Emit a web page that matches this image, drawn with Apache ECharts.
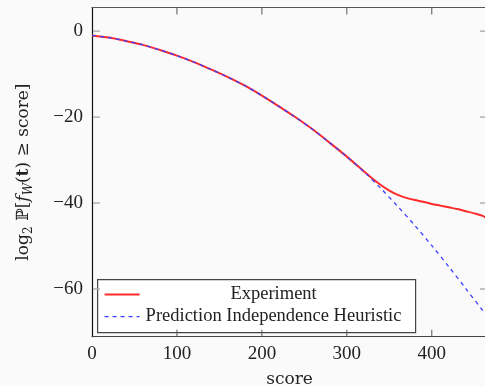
<!DOCTYPE html>
<html>
<head>
<meta charset="utf-8">
<script src="https://cdn.jsdelivr.net/npm/echarts@6/dist/echarts.min.js"></script>
<style>
  html, body { margin: 0; padding: 0; background: #fafafa; }
  #chart { width: 485px; height: 386px; }
</style>
</head>
<body>
<div id="chart"></div>
<script>
// score values and log2 probabilities
const heuristicX = [0, 20, 40, 60, 80, 100, 120, 140, 160, 180, 200, 220, 240, 260, 280, 300, 320, 340, 360, 380, 400, 420, 440, 460, 466];
const heuristicY = [-1.0, -1.5, -2.3, -3.2, -4.4, -5.7, -7.2, -8.9, -10.7, -12.7, -15.0, -17.5, -20.1, -22.9, -26.0, -29.2, -32.7, -36.6, -40.8, -45.2, -49.9, -54.8, -59.9, -65.0, -66.4];

const experimentX = [0, 20, 40, 60, 80, 100, 120, 140, 160, 180, 200, 220, 240, 260, 280, 300, 310, 320, 330, 340, 350, 360, 370, 380, 390, 400, 410, 420, 430, 440, 450, 460, 466];
const experimentY = [-1.0, -1.5, -2.3, -3.2, -4.4, -5.7, -7.2, -8.9, -10.7, -12.7, -15.0, -17.5, -20.1, -22.9, -26.0, -29.2, -30.9, -32.6, -34.3, -35.8, -37.1, -38.1, -38.8, -39.3, -39.7, -40.2, -40.6, -41.0, -41.4, -41.9, -42.4, -43.0, -43.7];

const xTicks = [0, 100, 200, 300, 400];
const yTicks = [-60, -40, -20, 0];

const X_MIN = 0, X_MAX = 465, Y_MIN = -71.1, Y_MAX = 5.5;

const pair = (xs, ys) => xs.map((x, i) => [x, ys[i]]);
const minus = (v) => String(v).replace('-', '\u2212');

const serif = '"Liberation Serif", "DejaVu Serif", serif';
const wide = '"DejaVu Serif", serif';
const chart = echarts.init(document.getElementById('chart'));

const nameRich = {
  n: { fontFamily: wide, fontSize: 17, color: '#222' },
  i: { fontFamily: wide, fontSize: 17, fontStyle: 'italic', color: '#222' },
  b: { fontFamily: wide, fontSize: 17, fontWeight: 'bold', color: '#222' },
  s: { fontFamily: wide, fontSize: 12, color: '#222', padding: [10, 0, 0, 0] },
  si: { fontFamily: wide, fontSize: 12, fontStyle: 'italic', color: '#222', padding: [10, 0, 0, 0] }
};

// pgfplots style inward ticks on all four sides
function tickSeries(values, vertical) {
  return {
    type: 'custom', silent: true, clip: false, z: 20,
    data: values.map((v) => [v]),
    renderItem: (params, api) => {
      const v = api.value(0);
      const len = 7;
      if (vertical) {
        const b = api.coord([v, Y_MIN]);
        const t = api.coord([v, Y_MAX]);
        const style = { stroke: '#555', lineWidth: 1 };
        return {
          type: 'group',
          children: [
            { type: 'line', shape: { x1: b[0], y1: b[1], x2: b[0], y2: b[1] - len }, style },
            { type: 'line', shape: { x1: t[0], y1: t[1], x2: t[0], y2: t[1] + len }, style }
          ]
        };
      }
      const l = api.coord([X_MIN, v]);
      const r = api.coord([X_MAX, v]);
      const style = { stroke: '#b0b0b0', lineWidth: 1.5 };
      return {
        type: 'group',
        children: [
          { type: 'line', shape: { x1: l[0] + 1, y1: l[1], x2: l[0] + len + 1, y2: l[1] }, style },
          { type: 'line', shape: { x1: r[0], y1: r[1], x2: r[0] - len, y2: r[1] }, style }
        ]
      };
    }
  };
}

chart.setOption({
  backgroundColor: '#fafafa',
  animation: false,
  textStyle: { fontFamily: serif },
  grid: { left: 92, right: -2, top: 7.5, bottom: 49.3, outerBoundsMode: 'none', containLabel: false },
  xAxis: [
    {
      type: 'value', min: X_MIN, max: X_MAX, position: 'bottom',
      name: 'score', nameLocation: 'middle', nameGap: 34,
      nameTextStyle: { fontFamily: wide, fontSize: 17, color: '#222' },
      axisLine: { show: true, onZero: false, lineStyle: { color: '#444', width: 1 } },
      axisTick: { show: false },
      axisLabel: { customValues: xTicks, fontFamily: serif, fontSize: 19, color: '#222', margin: 8 },
      splitLine: { show: false }
    },
    {
      type: 'value', min: X_MIN, max: X_MAX, position: 'top',
      axisLine: { show: true, onZero: false, lineStyle: { color: '#555', width: 1 } },
      axisTick: { show: false },
      axisLabel: { show: false },
      splitLine: { show: false }
    }
  ],
  yAxis: [
    {
      type: 'value', min: Y_MIN, max: Y_MAX, position: 'left',
      name: '{n|log}{s|2}{n| \u2119[}{i|f}{si|W}{n|(}{b|t}{n|) \u2265 score]}',
      nameLocation: 'middle', nameGap: 57, nameRotate: 90,
      nameTextStyle: { fontFamily: wide, fontSize: 17, color: '#222', rich: nameRich },
      axisLine: { show: true, onZero: false, lineStyle: { color: '#111', width: 1.2 } },
      axisTick: { show: false },
      axisLabel: { customValues: yTicks, formatter: minus, fontFamily: serif, fontSize: 19, color: '#222', margin: 9 },
      splitLine: { show: false }
    },
    {
      type: 'value', min: Y_MIN, max: Y_MAX, position: 'right',
      axisLine: { show: true, onZero: false, lineStyle: { color: '#555', width: 1 } },
      axisTick: { show: false },
      axisLabel: { show: false },
      splitLine: { show: false }
    }
  ],
  series: [
    tickSeries(xTicks.filter((v) => v > 0), true),
    tickSeries(yTicks, false),
    {
      name: 'Experiment', type: 'line', data: pair(experimentX, experimentY),
      showSymbol: false, smooth: 0.3, z: 2,
      lineStyle: { color: '#ff2a2a', width: 2 }
    },
    {
      name: 'Prediction Independence Heuristic', type: 'line', data: pair(heuristicX, heuristicY),
      showSymbol: false, smooth: 0.3, z: 3,
      lineStyle: { color: '#3f3fff', width: 1.3, type: [4, 4] }
    }
  ],
  graphic: [
    {
      type: 'group', left: 97, top: 279, z: 10,
      children: [
        { type: 'rect', shape: { x: 0, y: 0, width: 318, height: 53 }, style: { fill: '#ffffff', stroke: '#444', lineWidth: 1.2 } },
        { type: 'line', shape: { x1: 7, y1: 15, x2: 42, y2: 15 }, style: { stroke: '#ff2a2a', lineWidth: 2 } },
        { type: 'text', style: { x: 176, y: 15, text: 'Experiment', font: '18.5px ' + serif, fill: '#222', align: 'center', verticalAlign: 'middle' } },
        { type: 'line', shape: { x1: 7, y1: 37, x2: 42, y2: 37 }, style: { stroke: '#3f3fff', lineWidth: 1.3, lineDash: [4, 4] } },
        { type: 'text', style: { x: 48, y: 37, text: 'Prediction Independence Heuristic', font: '18.5px ' + serif, fill: '#222', align: 'left', verticalAlign: 'middle' } }
      ]
    }
  ]
});
</script>
</body>
</html>
